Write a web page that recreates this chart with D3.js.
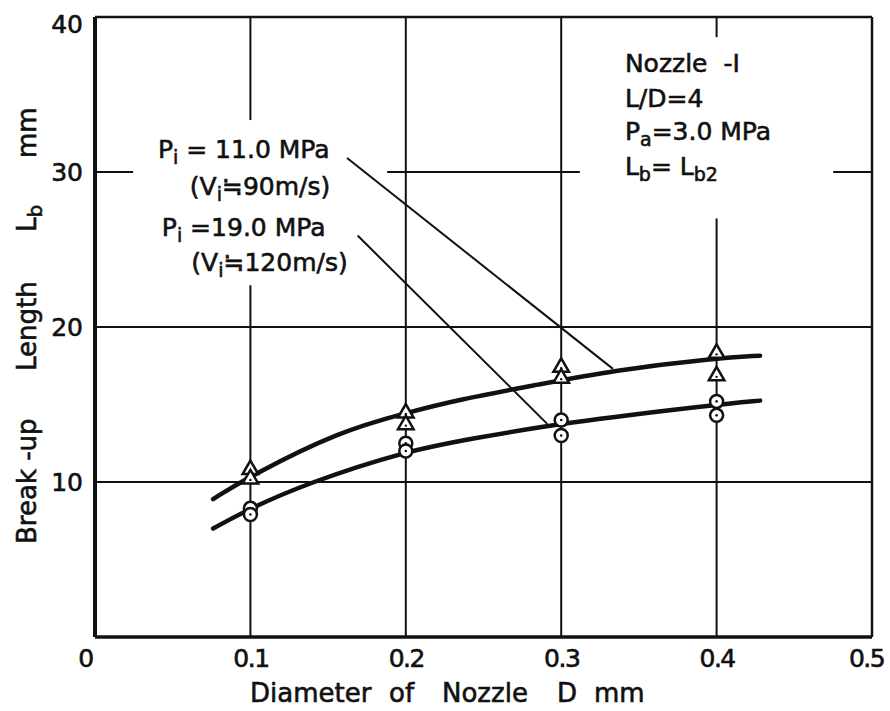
<!DOCTYPE html>
<html>
<head>
<meta charset="utf-8">
<script src="https://cdn.jsdelivr.net/npm/d3@7"></script>
<style>
  body { margin: 0; background: #fff; }
  text { font-family: "DejaVu Sans", sans-serif; fill: #111; stroke: #111; stroke-width: 0.6px; }
</style>
</head>
<body>
<script>
// chart dimensions
var svgWidth = 890;
var svgHeight = 711;

var margin = { top: 17, right: 18, bottom: 74, left: 95 };

var chartWidth = svgWidth - margin.left - margin.right;
var chartHeight = svgHeight - margin.top - margin.bottom;

// data
// measured points, Pi = 11.0 MPa (triangles)
var triD = [0.1, 0.1, 0.2, 0.2, 0.3, 0.3, 0.4, 0.4];
var triLb = [10.8, 10.2, 14.45, 13.7, 17.4, 16.7, 18.3, 16.85];
// measured points, Pi = 19.0 MPa (circles)
var cirD = [0.1, 0.1, 0.2, 0.2, 0.3, 0.3, 0.4, 0.4];
var cirLb = [8.3, 7.9, 12.5, 12.0, 14.0, 13.0, 15.2, 14.3];

// hand drawn fitted curves
var upperCurveD = [0.076, 0.1, 0.158, 0.2, 0.233, 0.286, 0.333, 0.4, 0.428];
var upperCurveLb = [8.9, 10.4, 13.3, 14.45, 15.3, 16.3, 17.2, 18.0, 18.15];
var lowerCurveD = [0.076, 0.1, 0.136, 0.2, 0.243, 0.3, 0.4, 0.428];
var lowerCurveLb = [7.0, 8.3, 9.9, 12.0, 12.8, 13.8, 15.0, 15.25];

var xTicks = [0, 0.1, 0.2, 0.3, 0.4, 0.5];
var xTickLabels = ["0", "0.1", "0.2", "0.3", "0.4", "0.5"];
var yTicks = [10, 20, 30, 40];

// grid lines, some broken where the labels sit  [x1, y1, x2, y2]
var gridSegments = [
  [0.1, 40, 0.1, 33.35], [0.1, 22.7, 0.1, 0],
  [0.2, 40, 0.2, 0], [0.3, 40, 0.3, 0],
  [0.4, 40, 0.4, 38.7], [0.4, 27.0, 0.4, 0],
  [0, 30, 0.0245, 30], [0.188, 30, 0.312, 30], [0.475, 30, 0.5, 30],
  [0, 20, 0.5, 20], [0, 10, 0.5, 10]
];

// leader lines from labels to curves
var leaders = [
  [0.1622, 30.9, 0.3333, 17.3],
  [0.169, 25.9, 0.291, 13.75]
];

var svg = d3.select("body")
  .append("svg")
  .attr("width", svgWidth)
  .attr("height", svgHeight);

svg.append("rect")
  .attr("width", svgWidth)
  .attr("height", svgHeight)
  .attr("fill", "#fff");

var chartGroup = svg.append("g")
  .attr("transform", `translate(${margin.left}, ${margin.top})`);

var xScale = d3.scaleLinear().domain([0, 0.5]).range([0, chartWidth]);
var yScale = d3.scaleLinear().domain([0, 40]).range([chartHeight, 0]);

// grid
chartGroup.selectAll(".grid")
  .data(gridSegments)
  .enter()
  .append("line")
  .attr("class", "grid")
  .attr("x1", d => xScale(d[0]))
  .attr("y1", d => yScale(d[1]))
  .attr("x2", d => xScale(d[2]))
  .attr("y2", d => yScale(d[3]))
  .attr("stroke", "#111")
  .attr("stroke-width", 2);

// curves
var line = d3.line()
  .x(d => xScale(d[0]))
  .y(d => yScale(d[1]))
  .curve(d3.curveBasis);

[[upperCurveD, upperCurveLb], [lowerCurveD, lowerCurveLb]].forEach(function(c) {
  var pts = c[0].map((d, i) => [d, c[1][i]]);
  chartGroup.append("path")
    .attr("d", line(pts))
    .attr("fill", "none")
    .attr("stroke", "#111")
    .attr("stroke-width", 4.5)
    .attr("stroke-linecap", "round");
});

// leader lines
chartGroup.selectAll(".leader")
  .data(leaders)
  .enter()
  .append("line")
  .attr("x1", d => xScale(d[0]))
  .attr("y1", d => yScale(d[1]))
  .attr("x2", d => xScale(d[2]))
  .attr("y2", d => yScale(d[3]))
  .attr("stroke", "#111")
  .attr("stroke-width", 2);

// triangles
var triData = triD.map((d, i) => ({ x: d, y: triLb[i] }));
var triSym = d3.symbol().type(d3.symbolTriangle).size(105);
var triG = chartGroup.selectAll(".tri")
  .data(triData)
  .enter()
  .append("g")
  .attr("transform", d => `translate(${xScale(d.x)}, ${yScale(d.y)})`);
triG.append("path")
  .attr("d", triSym)
  .attr("fill", "#fff")
  .attr("stroke", "#111")
  .attr("stroke-width", 2.5);
triG.append("circle").attr("r", 1.2).attr("cy", 1).attr("fill", "#111");

// circles
var cirData = cirD.map((d, i) => ({ x: d, y: cirLb[i] }));
var cirG = chartGroup.selectAll(".cir")
  .data(cirData)
  .enter()
  .append("g")
  .attr("transform", d => `translate(${xScale(d.x)}, ${yScale(d.y)})`);
cirG.append("circle")
  .attr("r", 6.5)
  .attr("fill", "#fff")
  .attr("stroke", "#111")
  .attr("stroke-width", 2.5);
cirG.append("circle").attr("r", 1.3).attr("fill", "#111");

// axes (labels only, frame drawn below)
var bottomAxis = d3.axisBottom(xScale)
  .tickValues(xTicks)
  .tickSize(0)
  .tickPadding(12)
  .tickFormat((d, i) => xTickLabels[i]);

var leftAxis = d3.axisLeft(yScale)
  .tickValues(yTicks)
  .tickSize(0)
  .tickPadding(12);

var xAxis = chartGroup.append("g")
  .attr("transform", `translate(0, ${chartHeight})`)
  .call(bottomAxis);
var yAxis = chartGroup.append("g").call(leftAxis);

[xAxis, yAxis].forEach(function(a) {
  a.select(".domain").remove();
  a.selectAll("text")
    .attr("font-size", 25)
    .attr("font-family", "DejaVu Sans")
    .attr("fill", "#111");
});
xAxis.selectAll("text").attr("dy", "0.72em").attr("letter-spacing", -1.5);
xAxis.selectAll("text").filter(d => d === 0).attr("dx", -10);
xAxis.selectAll("text").filter(d => d === 0.5).attr("dx", -6);
yAxis.selectAll("text").filter(d => d === 40).attr("dy", "0.6em");

// frame
chartGroup.append("line").attr("x1", 0).attr("x2", chartWidth).attr("y1", 0).attr("y2", 0)
  .attr("stroke", "#111").attr("stroke-width", 2.5);
chartGroup.append("line").attr("x1", chartWidth).attr("x2", chartWidth).attr("y1", 0).attr("y2", chartHeight)
  .attr("stroke", "#111").attr("stroke-width", 2.5);
chartGroup.append("line").attr("x1", 0).attr("x2", chartWidth).attr("y1", chartHeight).attr("y2", chartHeight)
  .attr("stroke", "#111").attr("stroke-width", 3.5);
chartGroup.append("line").attr("x1", 0).attr("x2", 0).attr("y1", 0).attr("y2", chartHeight)
  .attr("stroke", "#111").attr("stroke-width", 4);

// x axis title, words spread out as in the print
var xTitleWords = ["Diameter", "of", "Nozzle", "D", "mm"];
var xTitlePos = [250, 389, 442, 557, 594];
xTitleWords.forEach(function(w, i) {
  svg.append("text")
    .attr("x", xTitlePos[i])
    .attr("y", 702)
    .attr("font-size", 26)
    .text(w);
});

// y axis title pieces
function yPiece(y, parts) {
  var t = svg.append("text")
    .attr("transform", `translate(36, ${y}) rotate(-90)`)
    .attr("font-size", 26);
  parts.forEach(function(p) {
    var s = t.append("tspan").text(p[0]);
    if (p[1] === "sub") s.attr("font-size", 20).attr("dy", 6);
  });
}
yPiece(544, [["Break -up"]]);
yPiece(371, [["Length"]]);
yPiece(232, [["L"], ["b", "sub"]]);
yPiece(158, [["mm"]]);

// helper for subscripted text
function subText(x, y, parts) {
  var t = chartGroup.append("text")
    .attr("x", x)
    .attr("y", y)
    .attr("font-size", 25);
  parts.forEach(function(p) {
    var s = t.append("tspan").text(p[0]);
    if (p[1] === "sub") s.attr("font-size", 19).attr("dy", 6);
    if (p[1] === "up") s.attr("dy", -6);
  });
  return t;
}

// curve labels
subText(xScale(0.0405), yScale(30.9), [["P"], ["i", "sub"], [" = 11.0 MPa", "up"]]);
subText(xScale(0.061), yScale(28.5), [["(V"], ["i", "sub"], ["≒90m/s)", "up"]]);
subText(xScale(0.043), yScale(25.9), [["P"], ["i", "sub"], [" =19.0 MPa", "up"]]);
subText(xScale(0.062), yScale(23.6), [["(V"], ["i", "sub"], ["≒120m/s)", "up"]]);

// conditions box
subText(xScale(0.341), yScale(36.45), [["Nozzle -I"]]).attr("word-spacing", 8);
subText(xScale(0.341), yScale(34.2), [["L/D=4"]]);
subText(xScale(0.341), yScale(32.05), [["P"], ["a", "sub"], ["=3.0 MPa", "up"]]);
subText(xScale(0.341), yScale(29.8), [["L"], ["b", "sub"], ["= L", "up"], ["b2", "sub"]]);
</script>
</body>
</html>
